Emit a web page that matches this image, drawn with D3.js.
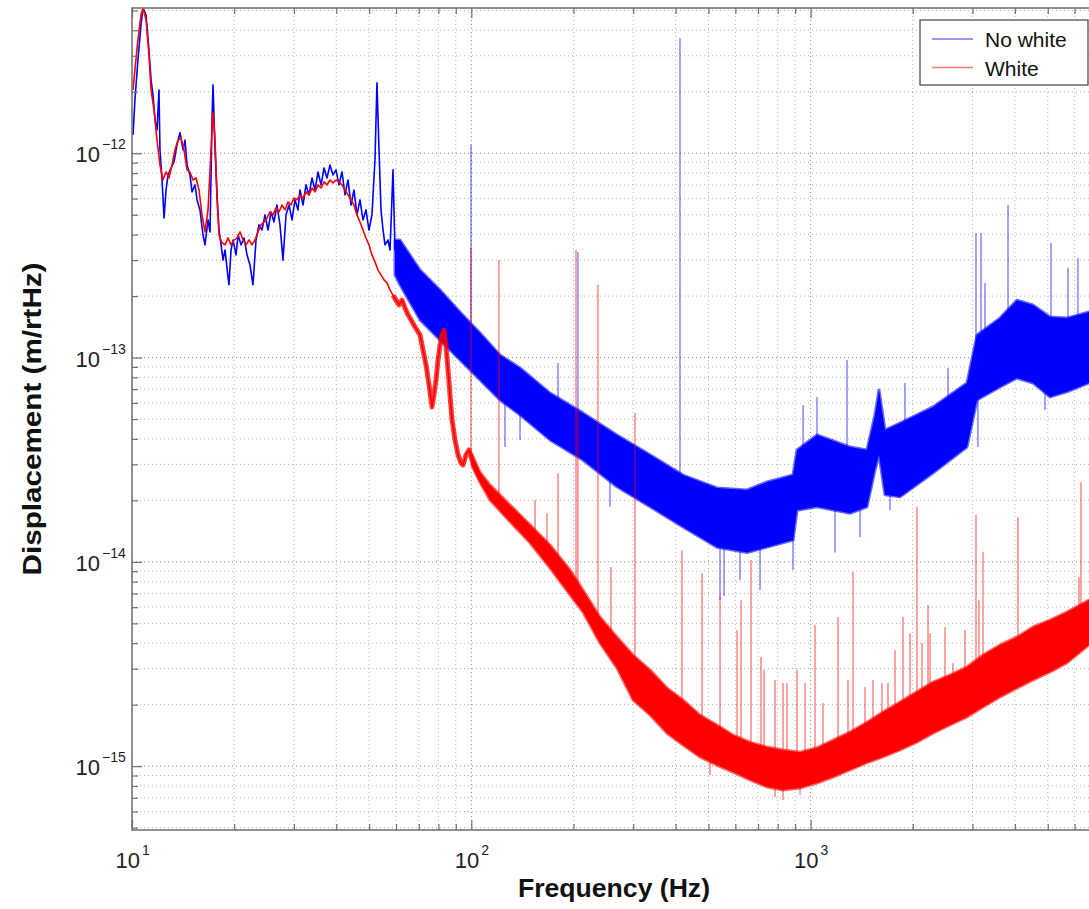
<!DOCTYPE html>
<html>
<head>
<meta charset="utf-8">
<script src="https://cdn.jsdelivr.net/npm/d3@7"></script>
<style>
  body { margin: 0; background: #fff; }
  svg { display: block; font-family: "Liberation Sans", Arial, Helvetica, sans-serif; }
</style>
</head>
<body>
<div id="chart"></div>
<script>
// ---- values ----
const seriesNames = ["No white", "White"];
const seriesColors = ["#0000ff", "#ff0000"];
const xTickExp = [1, 2, 3];
const yTickExp = [-12, -13, -14, -15];

// below ~60 Hz both traces are thin lines: [Hz, m/rtHz]
const noWhiteLow = [
  [10.07,1.23e-12],[10.2,1.82e-12],[10.41,2.86e-12],[10.63,4.25e-12],[10.78,5.14e-12],[11.0,4.75e-12],
  [11.22,3.2e-12],[11.38,2.29e-12],[11.53,1.93e-12],[11.69,1.46e-12],[11.85,1.3e-12],[12.01,2.04e-12],
  [12.09,1.04e-12],[12.26,7.4e-13],[12.43,4.82e-13],[12.6,6.61e-13],[12.77,7.83e-13],[13.03,8.47e-13],
  [13.3,9.07e-13],[13.57,1.1e-12],[13.85,1.26e-12],[14.14,1.04e-12],[14.33,1.16e-12],[14.53,8.76e-13],
  [14.82,7.83e-13],[15.03,6.47e-13],[15.34,7.0e-13],[15.55,5.91e-13],[15.86,5.28e-13],[16.19,3.98e-13],
  [16.41,3.56e-13],[16.75,4.72e-13],[16.98,4.12e-13],[17.21,1.46e-12],[17.33,2.16e-12],[17.57,1.04e-12],
  [17.81,6.25e-13],[18.05,4.21e-13],[18.3,3.56e-13],[18.55,3.0e-13],[18.8,3.36e-13],[19.05,2.75e-13],
  [19.31,2.27e-13],[19.58,3.36e-13],[19.85,3.76e-13],[20.26,3.18e-13],[20.54,3.98e-13],[20.96,3.56e-13],
  [21.39,3.85e-13],[21.83,3.18e-13],[22.27,2.84e-13],[22.73,2.27e-13],[23.2,3.76e-13],[23.67,4.46e-13],
  [24.16,4.21e-13],[24.66,4.99e-13],[25.17,4.21e-13],[25.69,5.16e-13],[26.21,4.61e-13],[26.75,5.58e-13],
  [27.3,4.46e-13],[27.86,3.0e-13],[28.44,4.99e-13],[29.02,5.58e-13],[29.62,4.72e-13],[30.23,5.91e-13],
  [30.85,5.28e-13],[31.27,6.61e-13],[31.92,5.58e-13],[32.57,7.0e-13],[33.24,6.25e-13],[33.93,7.57e-13],
  [34.63,6.61e-13],[35.34,8.1e-13],[36.06,7.0e-13],[36.81,8.47e-13],[37.56,7.57e-13],[38.33,8.76e-13],
  [39.12,7.83e-13],[39.92,8.29e-13],[40.74,7.0e-13],[41.58,8.1e-13],[42.44,6.25e-13],[43.31,7.4e-13],
  [44.2,5.58e-13],[45.11,6.61e-13],[46.04,4.99e-13],[46.98,5.91e-13],[47.95,4.72e-13],[48.93,5.28e-13],
  [49.94,4.21e-13],[50.96,4.99e-13],[52.01,9.27e-13],[52.72,2.21e-12],[53.45,1.04e-12],[54.18,5.28e-13],
  [54.93,4.21e-13],[55.68,3.56e-13],[56.83,3.76e-13],[57.61,3.36e-13],[58.78,8.29e-13],[59.58,3.36e-13]
];
const whiteLow = [
  [10.07,2.04e-12],[10.2,2.56e-12],[10.41,3.59e-12],[10.63,4.75e-12],[10.78,5.14e-12],[11.0,4.49e-12],
  [11.22,3.03e-12],[11.38,2.04e-12],[11.61,1.63e-12],[11.85,1.16e-12],[12.09,8.76e-13],[12.34,7.4e-13],
  [12.6,8.1e-13],[12.85,7.57e-13],[13.12,8.76e-13],[13.39,1.04e-12],[13.67,1.16e-12],[13.95,1.19e-12],
  [14.23,1.04e-12],[14.53,8.29e-13],[14.82,8.1e-13],[15.13,7.4e-13],[15.44,7.57e-13],[15.76,6.61e-13],
  [16.08,4.99e-13],[16.41,4.12e-13],[16.75,5.28e-13],[17.1,1.04e-12],[17.33,1.58e-12],[17.57,1.16e-12],
  [17.81,5.91e-13],[18.05,3.98e-13],[18.42,3.64e-13],[18.8,3.56e-13],[19.18,3.85e-13],[19.58,3.56e-13],
  [19.98,3.76e-13],[20.4,3.85e-13],[20.82,4.12e-13],[21.25,3.76e-13],[21.68,3.56e-13],[22.13,3.76e-13],
  [22.58,3.56e-13],[23.04,3.76e-13],[23.51,4.12e-13],[24.0,4.46e-13],[24.49,4.61e-13],[25.0,4.82e-13],
  [25.51,5.16e-13],[26.04,4.99e-13],[26.57,5.4e-13],[27.12,5.16e-13],[27.67,5.58e-13],[28.24,5.28e-13],
  [28.83,5.78e-13],[29.42,5.58e-13],[30.03,6.04e-13],[30.64,5.91e-13],[31.27,6.25e-13],[31.92,6.04e-13],
  [32.57,6.47e-13],[33.24,6.25e-13],[33.93,6.76e-13],[34.63,6.47e-13],[35.34,7.0e-13],[36.06,6.76e-13],
  [36.81,7.24e-13],[37.56,7.0e-13],[38.33,7.4e-13],[39.12,7.16e-13],[39.92,7.4e-13],[40.74,7.24e-13],
  [41.58,7.0e-13],[42.44,6.61e-13],[43.31,6.25e-13],[44.2,5.91e-13],[45.11,5.58e-13],[46.04,4.99e-13],
  [46.98,4.61e-13],[47.95,4.21e-13],[48.93,3.85e-13],[49.94,3.56e-13],[50.96,3.18e-13],[52.01,2.94e-13],
  [53.09,2.68e-13],[54.18,2.54e-13],[55.3,2.4e-13],[56.44,2.32e-13],[57.61,2.14e-13],[58.78,2.02e-13],
  [59.98,1.91e-13],[61.21,1.81e-13],[62.47,1.91e-13],[63.75,1.75e-13],[65.06,1.62e-13],[66.41,1.53e-13],
  [67.8,1.44e-13],[69.19,1.36e-13],[70.62,1.29e-13],[72.07,1.09e-13],[73.55,9.2e-14],[75.07,7.34e-14],
  [76.1,6.2e-14],[76.61,5.73e-14],[77.63,6.56e-14],[78.71,7.77e-14],[79.78,9.73e-14],[80.87,1.15e-13],
  [81.98,1.29e-13],[83.1,1.36e-13],[84.2,1.15e-13],[85.4,8.69e-14],[86.55,6.56e-14],[87.74,4.95e-14],
  [89.54,3.95e-14],[91.39,3.34e-14],[93.25,3.05e-14],[94.52,2.98e-14],[96.47,3.34e-14],[98.45,3.53e-14],
  [100.5,3.15e-14],[102.5,2.91e-14],[106.1,2.57e-14],[109.7,2.33e-14],[113.5,2.17e-14]
];

// above that each trace is a dense noise band: [Hz, lower, upper]
const noWhiteBand = [
  [59.58,2.54e-13,3.76e-13],[61.63,2.27e-13,3.76e-13],[70.62,1.53e-13,2.68e-13],[80.87,1.22e-13,2.14e-13],
  [92.62,9.73e-14,1.67e-13],[106.1,7.77e-14,1.32e-13],[121.5,6.2e-14,1.03e-13],[139.2,5.24e-14,8.89e-14],
  [170.6,3.95e-14,6.7e-14],[213.3,3.15e-14,5.36e-14],[268.7,2.33e-14,4.18e-14],[336.3,1.86e-14,3.34e-14],
  [420.6,1.48e-14,2.66e-14],[529.8,1.18e-14,2.3e-14],[649.6,1.11e-14,2.25e-14],[744.0,1.18e-14,2.46e-14],
  [887.5,1.28e-14,2.66e-14],[912.0,1.79e-14,3.53e-14],[1044.5,1.86e-14,4.18e-14],[1306.6,1.73e-14,3.65e-14],
  [1466.2,1.86e-14,3.53e-14],[1548.1,2.82e-14,5.24e-14],[1590.7,3.34e-14,6.94e-14],[1656.8,2.13e-14,4.42e-14],
  [1834.5,2.08e-14,4.78e-14],[2294.8,2.72e-14,5.73e-14],[2890,3.65e-14,7.51e-14],[3093.2,6.2e-14,1.29e-13],
  [3616,7.18e-14,1.56e-13],[4058,7.94e-14,1.91e-13],[4523,7.51e-14,1.81e-13],[5077,6.42e-14,1.58e-13],
  [5695,6.8e-14,1.56e-13],[6614,7.51e-14,1.67e-13]
];
const whiteBand = [
  [100.5,2.95e-14,3.35e-14],[106.1,2.45e-14,2.75e-14],
  [113.5,2.01e-14,2.38e-14],[130.0,1.57e-14,1.9e-14],[148.9,1.24e-14,1.52e-14],[170.6,9.33e-15,1.21e-14],
  [195.4,6.89e-15,9.13e-15],[213.3,5.68e-15,7.29e-15],[239.4,4.01e-15,5.37e-15],[268.7,3.02e-15,4.29e-15],
  [299.6,2.11e-15,3.5e-15],[336.3,1.78e-15,2.96e-15],[377.4,1.45e-15,2.41e-15],[420.6,1.27e-15,2.11e-15],
  [472.1,1.11e-15,1.78e-15],[529.8,1.01e-15,1.59e-15],[590.7,9.36e-16,1.42e-15],[662.9,8.56e-16,1.31e-15],
  [744.0,7.91e-16,1.24e-15],[829.3,7.64e-16,1.2e-15],[930.8,7.81e-16,1.17e-15],[1044.5,8.27e-16,1.23e-15],
  [1164.2,8.85e-16,1.34e-15],[1306.6,9.58e-16,1.47e-15],[1466.2,1.04e-15,1.64e-15],[1634.4,1.11e-15,1.84e-15],
  [1834.5,1.2e-15,2.06e-15],[2058,1.31e-15,2.31e-15],[2294.8,1.45e-15,2.58e-15],[2575.4,1.59e-15,2.79e-15],
  [2890,1.74e-15,3.06e-15],[3222,1.95e-15,3.5e-15],[3616,2.18e-15,3.92e-15],[4058,2.41e-15,4.29e-15],
  [4523,2.64e-15,4.8e-15],[5077,2.89e-15,5.19e-15],[5695,3.2e-15,5.68e-15],[6614,3.92e-15,6.51e-15]
];

// lines and spikes sticking out of the bands: [Hz, from, to]
const noWhiteSpikes = [
  [99.8,1.44e-13,1.1e-12],[180.1,5.24e-14,9.41e-14],[206.2,4.18e-14,3.29e-13],[412.1,2.01e-14,3.67e-12],
  [950.2,2.52e-14,5.86e-14],[1044.5,2.82e-14,6.42e-14],[1280.3,2.52e-14,9.73e-14],[1897.6,3.15e-14,7.51e-14],
  [2540.7,4.42e-14,8.89e-14],[3072.1,8.69e-14,4.07e-13],[3178.4,9.73e-14,4.07e-13],[3266,1.03e-13,2.32e-13],
  [3818,1.22e-13,5.58e-13],[5111,1.09e-13,3.64e-13],[5734,1.09e-13,2.75e-13],[6138,1.09e-13,3.07e-13],
  [125.7,7.77e-14,3.65e-14],[139.2,6.56e-14,3.95e-14],[256.3,3.15e-14,1.86e-14],[540.8,1.6e-14,6.51e-15],
  [555.7,1.6e-14,6.81e-15],[619.5,1.52e-14,8.15e-15],[709.5,1.52e-14,7.29e-15],[887.5,1.79e-14,9.13e-15],
  [1180.2,2.52e-14,1.11e-14],[1398.3,2.52e-14,1.32e-14],[1714,2.82e-14,1.79e-14],[3113,6.94e-14,3.65e-14],
  [4908,7.77e-14,5.54e-14]
];
const whiteSpikes = [
  [99.8,3.15e-14,3.44e-13],[120.6,2.01e-14,3.0e-13],[154.1,1.35e-14,2.01e-14],[167.1,1.14e-14,1.73e-14],
  [180.1,1.02e-14,2.72e-14],[203.5,7.29e-15,3.36e-13],[206.2,7.29e-15,5.54e-14],[236.2,4.91e-15,2.27e-13],
  [258,4.39e-15,9.44e-15],[303.7,2.96e-15,5.36e-14],[417.8,1.68e-15,1.14e-14],[478.6,1.42e-15,8.82e-15],
  [540.8,1.27e-15,6.73e-15],[607,1.13e-15,4.64e-15],[623.7,1.13e-15,6.51e-15],[667.4,1.07e-15,1.02e-14],
  [714.3,1.01e-15,3.42e-15],[729,1.01e-15,2.96e-15],[785.5,9.79e-16,2.64e-15],[829.3,9.58e-16,2.55e-15],
  [852.1,9.58e-16,2.55e-15],[912,9.58e-16,2.96e-15],[963.1,9.58e-16,2.55e-15],[1030.4,1.01e-15,4.91e-15],
  [1087.8,1.01e-15,2.04e-15],[1204.4,1.09e-15,5.37e-15],[1289,1.17e-15,2.64e-15],[1333.5,1.17e-15,8.93e-15],
  [1446.4,1.27e-15,2.44e-15],[1527.2,1.31e-15,2.64e-15],[1623.3,1.39e-15,2.55e-15],[1690.8,1.42e-15,2.55e-15],
  [1773.4,1.5e-15,3.7e-15],[1872,1.59e-15,5.37e-15],[1963.3,1.68e-15,4.49e-15],[2058,1.74e-15,1.86e-14],
  [2129.8,1.82e-15,4.01e-15],[2218.3,1.88e-15,6.15e-15],[2248.7,1.88e-15,4.49e-15],[2489.6,2.11e-15,4.8e-15],
  [2628.6,2.21e-15,3.2e-15],[2851,2.31e-15,4.64e-15],[3072.1,2.58e-15,1.7e-14],[3135.5,2.58e-15,6.51e-15],
  [3222,2.64e-15,1.12e-14],[3356,2.73e-15,3.5e-15],[3567,2.89e-15,3.38e-15],[3818,3.13e-15,3.83e-15],
  [4085,3.31e-15,1.66e-14],[4373,3.5e-15,4.01e-15],[4974,3.79e-15,4.64e-15],[5358,4.14e-15,4.64e-15],
  [6180,4.91e-15,8.43e-15],[6264,4.91e-15,2.46e-14],
  [505.3,1.11e-15,9.05e-16],[785.5,9.79e-16,7.06e-16],[829.3,9.58e-16,6.83e-16],[930.8,8.09e-16,7.22e-16]
];

// ---- layout ----
const width = 1089, height = 909;
const plotLeft = 132, plotTop = 8, plotBottom = 830;

const x = d3.scaleLog().domain([10, 1e4]).range([plotLeft, plotLeft + 3 * 339.3]);
const y = d3.scaleLog().domain([4.87e-16, 5.14e-12]).range([plotBottom, plotTop]);
const plotRight = x(1e4);

const svg = d3.select("#chart").append("svg")
    .attr("width", width)
    .attr("height", height);

svg.append("defs").append("clipPath").attr("id", "plotClip")
    .append("rect")
    .attr("x", plotLeft).attr("y", plotTop)
    .attr("width", plotRight - plotLeft).attr("height", plotBottom - plotTop);

// minor + major tick values for each log axis
const xTicksAll = [];
for (let e = 1; e < 4; e++) for (let m = 1; m < 10; m++) xTicksAll.push(m * Math.pow(10, e));
xTicksAll.push(1e4);
const yTicksAll = [];
for (let e = -16; e <= -12; e++) for (let m = 1; m < 10; m++) {
    const v = m * Math.pow(10, e);
    if (v >= y.domain()[0] && v <= y.domain()[1]) yTicksAll.push(v);
}
const isMajor = v => Math.abs(Math.log10(v) - Math.round(Math.log10(v))) < 1e-9;

// **dotted grid**
const grid = svg.append("g").attr("clip-path", "url(#plotClip)");
grid.selectAll(".vgrid").data(xTicksAll).enter().append("line")
    .attr("x1", d => x(d)).attr("x2", d => x(d))
    .attr("y1", plotTop).attr("y2", plotBottom)
    .attr("stroke", d => isMajor(d) ? "#888" : "#b4b4b4")
    .attr("stroke-width", 1)
    .attr("stroke-dasharray", "1,3");
grid.selectAll(".hgrid").data(yTicksAll).enter().append("line")
    .attr("x1", plotLeft).attr("x2", plotRight)
    .attr("y1", d => y(d)).attr("y2", d => y(d))
    .attr("stroke", d => isMajor(d) ? "#888" : "#b4b4b4")
    .attr("stroke-width", 1)
    .attr("stroke-dasharray", "1,3");

// **traces**
const plot = svg.append("g").attr("clip-path", "url(#plotClip)");
const line = d3.line().x(d => x(d[0])).y(d => y(d[1]));
const band = d3.area().x(d => x(d[0])).y0(d => y(d[1])).y1(d => y(d[2]));

const traces = [
    { low: noWhiteLow, band: noWhiteBand, spikes: noWhiteSpikes, color: seriesColors[0], thickFrom: null },
    { low: whiteLow, band: whiteBand, spikes: whiteSpikes, color: seriesColors[1], thickFrom: 58 }
];

traces.forEach(t => {
    const g = plot.append("g");
    g.selectAll(".spike").data(t.spikes).enter().append("line")
        .attr("x1", d => x(d[0])).attr("x2", d => x(d[0]))
        .attr("y1", d => y(d[1])).attr("y2", d => y(d[2]))
        .attr("stroke", t.color)
        .attr("stroke-opacity", 0.6)
        .attr("stroke-width", 1.2);
    g.append("path").datum(t.band)
        .attr("d", band)
        .attr("fill", t.color)
        .attr("stroke", t.color)
        .attr("stroke-opacity", 0.6)
        .attr("stroke-width", 3)
        .attr("stroke-linejoin", "round");
    g.append("path").datum(t.low)
        .attr("d", line)
        .attr("fill", "none")
        .attr("stroke", t.color)
        .attr("stroke-width", 1.6)
        .attr("stroke-linejoin", "round");
    // the red trace gets noisier past 60 Hz, so that part is drawn thicker
    if (t.thickFrom) {
        g.append("path").datum(t.low.filter(d => d[0] >= t.thickFrom))
            .attr("d", line)
            .attr("fill", "none")
            .attr("stroke", t.color)
            .attr("stroke-opacity", 0.75)
            .attr("stroke-width", 5)
            .attr("stroke-linejoin", "round");
    }
});

// **axes (ticks point inward)**
const tickLen = d => isMajor(d) ? 10 : 6;
const axisCol = "#6e6e6e";

svg.append("g").attr("transform", `translate(0,${plotBottom})`)
    .call(d3.axisBottom(x).tickValues(xTicksAll).tickFormat("").tickSizeOuter(0))
    .call(g => g.select(".domain").remove())
    .call(g => g.selectAll(".tick line").attr("y2", d => -tickLen(d)).attr("stroke", axisCol).attr("stroke-width", 1.2));
svg.append("g").attr("transform", `translate(0,${plotTop})`)
    .call(d3.axisTop(x).tickValues(xTicksAll).tickFormat("").tickSizeOuter(0))
    .call(g => g.select(".domain").remove())
    .call(g => g.selectAll(".tick line").attr("y2", d => tickLen(d)).attr("stroke", axisCol).attr("stroke-width", 1.2));
svg.append("g").attr("transform", `translate(${plotLeft},0)`)
    .call(d3.axisLeft(y).tickValues(yTicksAll).tickFormat("").tickSizeOuter(0))
    .call(g => g.select(".domain").remove())
    .call(g => g.selectAll(".tick line").attr("x2", d => tickLen(d)).attr("stroke", axisCol).attr("stroke-width", 1.2));

svg.append("rect")
    .attr("x", plotLeft).attr("y", plotTop)
    .attr("width", plotRight - plotLeft).attr("height", plotBottom - plotTop)
    .attr("fill", "none")
    .attr("stroke", axisCol)
    .attr("stroke-width", 1.5);

// **tick labels, 10 with a superscript exponent**
const sup = e => (e < 0 ? "\u2212" : "") + Math.abs(e);

const xl = svg.append("g").attr("fill", "#222");
xTickExp.forEach(e => {
    const px = x(Math.pow(10, e));
    xl.append("text").attr("x", px + 8).attr("y", 868)
        .attr("text-anchor", "end").attr("font-size", "22px").text("10");
    xl.append("text").attr("x", px + 10).attr("y", 855)
        .attr("font-size", "14px").text(sup(e));
});

const yl = svg.append("g").attr("fill", "#222");
yTickExp.forEach(e => {
    const py = y(Math.pow(10, e));
    yl.append("text").attr("x", 100).attr("y", py + 9)
        .attr("text-anchor", "end").attr("font-size", "22px").text("10");
    yl.append("text").attr("x", 102).attr("y", py - 4)
        .attr("font-size", "14px").text(sup(e));
});

// **axis titles**
svg.append("text")
    .attr("x", 614).attr("y", 897)
    .attr("text-anchor", "middle")
    .attr("font-size", "25px").attr("font-weight", "bold").attr("fill", "#111")
    .attr("textLength", 192).attr("lengthAdjust", "spacingAndGlyphs")
    .text("Frequency (Hz)");

svg.append("text")
    .attr("transform", `translate(41,${(plotTop + plotBottom) / 2}) rotate(-90)`)
    .attr("text-anchor", "middle")
    .attr("font-size", "25px").attr("font-weight", "bold").attr("fill", "#111")
    .attr("textLength", 313).attr("lengthAdjust", "spacingAndGlyphs")
    .text("Displacement (m/rtHz)");

// **legend**
const legend = svg.append("g");
legend.append("rect")
    .attr("x", 920).attr("y", 20)
    .attr("width", 168).attr("height", 65)
    .attr("fill", "#fff")
    .attr("stroke", "#444").attr("stroke-width", 1.2);
seriesNames.forEach((name, i) => {
    const ly = 39 + i * 28.5;
    legend.append("line")
        .attr("x1", 932).attr("x2", 973)
        .attr("y1", ly).attr("y2", ly)
        .attr("stroke", seriesColors[i]).attr("stroke-opacity", 0.55).attr("stroke-width", 1.5);
    legend.append("text")
        .attr("x", 985).attr("y", ly + 8)
        .attr("font-size", "21px").attr("fill", "#111")
        .text(name);
});
</script>
</body>
</html>
